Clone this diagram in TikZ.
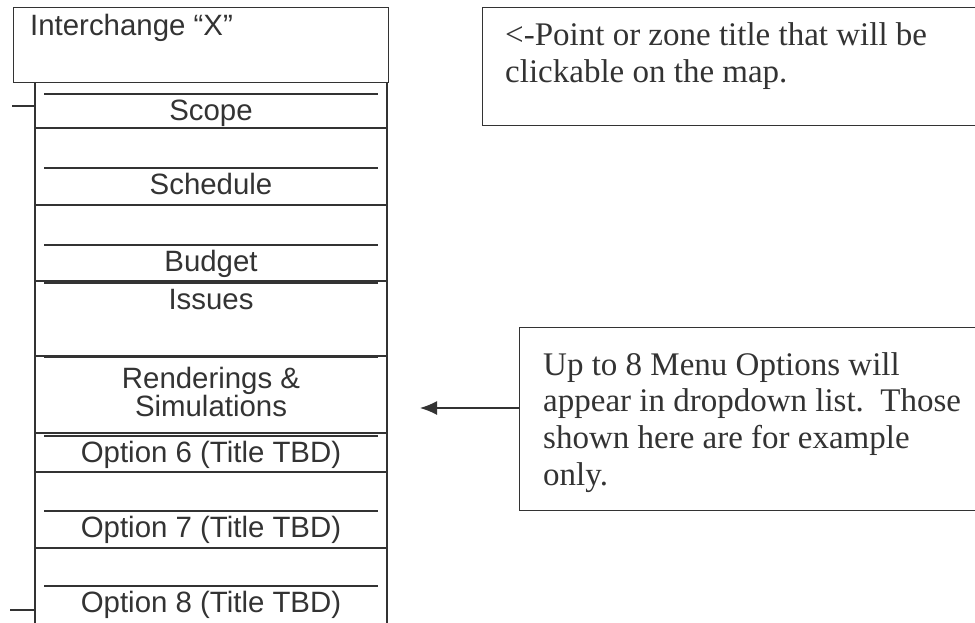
\documentclass[tikz,border=0pt]{standalone}
\usepackage{fontspec}
\setmainfont{Liberation Serif}
\setsansfont{Liberation Sans}
\usepackage{tikz}
\usetikzlibrary{positioning,arrows.meta}
\definecolor{ink}{HTML}{333333}

\begin{document}
\begin{tikzpicture}[x=1pt,y=-1pt,
    rule/.style={draw=ink,line width=1.3pt},
    menutext/.style={font=\sffamily\fontsize{29.4}{28}\selectfont,text=ink,inner xsep=0pt},
    item/.style={menutext,minimum width=333pt,inner ysep=5.5pt,text height=21pt,text depth=6pt,anchor=north},
    notebox/.style={rule,minimum width=510pt,anchor=north west,inner sep=0pt},
    notetext/.style={font=\fontsize{33}{36.7}\selectfont,text=ink,align=left,inner sep=0pt}]
    \useasboundingbox (0,0) rectangle (975,622);
    \clip (0,0) rectangle (975,622);

    % title of the point
    \node[rule,minimum width=375pt,minimum height=75pt,anchor=north west,inner sep=0pt] (titlebox) at (13,7) {};
    \node[menutext,inner ysep=0pt,below right=6.5pt and 17pt of titlebox.north west] (titletext) {Interchange “X”};

    % dropdown frame
    \draw[rule] (35,82) -- (35,640);
    \draw[rule] (387,82) -- (387,640);
    \draw[rule] (12,106) -- (35,106);
    \draw[rule] (10,610) -- (35,610);
    \draw[rule] (35,128) -- (387,128);
    \draw[rule] (35,205) -- (387,205);
    \draw[rule] (35,281) -- (387,281);
    \draw[rule] (35,356) -- (387,356);
    \draw[rule] (35,433) -- (387,433);
    \draw[rule] (35,472) -- (387,472);
    \draw[rule] (35,548) -- (387,548);

    % menu options
    \node[item] (scope) at (211,94) {Scope};
    \node[item] (schedule) at (211,168) {Schedule};
    \node[item] (budget) at (211,245) {Budget};
    \node[item] (issues) at (211,283) {Issues};
    \node[menutext,minimum width=333pt,inner ysep=9.5pt,align=center,anchor=north] (renderings) at (211,357) {Renderings \&\\Simulations};
    \node[item] (optsix) at (211,436) {Option 6 (Title TBD)};
    \node[item] (optseven) at (211,511) {Option 7 (Title TBD)};
    \node[item] (opteight) at (211,586) {Option 8 (Title TBD)};
    \draw[rule] (scope.north west) -- (scope.north east);
    \draw[rule] (schedule.north west) -- (schedule.north east);
    \draw[rule] (budget.north west) -- (budget.north east);
    \draw[rule] (issues.north west) -- (issues.north east);
    \draw[rule] (renderings.north west) -- (renderings.north east);
    \draw[rule] (optsix.north west) -- (optsix.north east);
    \draw[rule] (optseven.north west) -- (optseven.north east);
    \draw[rule] (opteight.north west) -- (opteight.north east);

    % notes
    \node[notebox,minimum height=118pt] (pointnote) at (482,7) {};
    \node[notetext,below right=15.5pt and 23pt of pointnote.north west] (pointtext)
        {<-Point or zone title that will be\\clickable on the map.};
    \node[notebox,minimum height=183pt] (menunote) at (519,327) {};
    \node[notetext,below right=25pt and 24pt of menunote.north west] (menutext)
        {Up to 8 Menu Options will\\appear in dropdown list.\ \ Those\\shown here are for example\\only.};
    \coordinate (arrowtip) at (420,408);
    \draw[rule,-{Latex[length=17pt,width=14pt]}] (menunote.west |- arrowtip) -- (arrowtip);
\end{tikzpicture}
\end{document}
